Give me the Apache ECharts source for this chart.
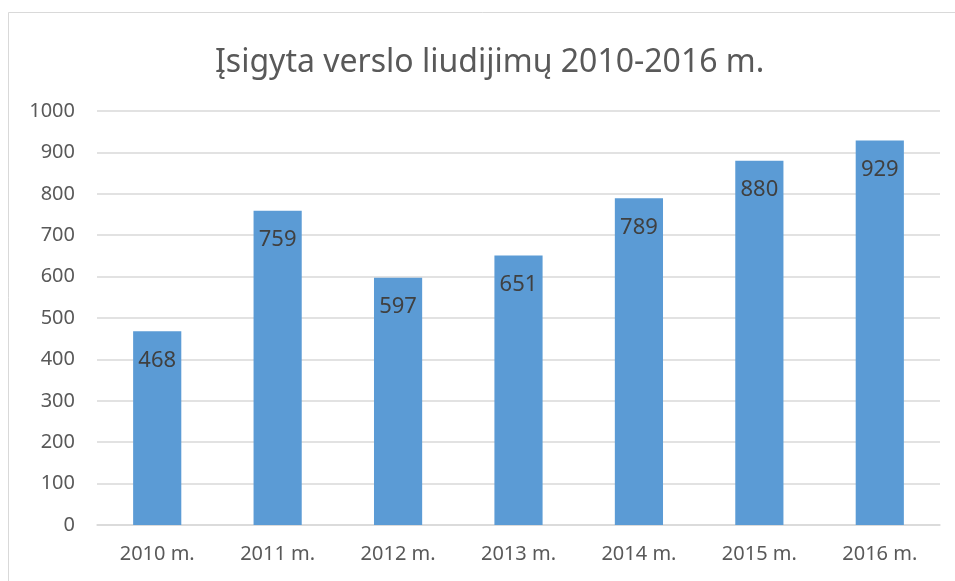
<!DOCTYPE html>
<html>
<head>
<meta charset="utf-8">
<script src="https://cdn.jsdelivr.net/npm/echarts@6/dist/echarts.min.js"></script>
<style>
  html, body { margin: 0; padding: 0; background: #fff; }
  #chart { width: 955px; height: 581px; }
</style>
</head>
<body>
<div id="chart"></div>
<script>
// 数据
const years = ['2010 m.', '2011 m.', '2012 m.', '2013 m.', '2014 m.', '2015 m.', '2016 m.'];
const values = [468, 759, 597, 651, 789, 880, 929];
const titleText = 'Įsigyta verslo liudijimų 2010-2016 m.';

const chart = echarts.init(document.getElementById('chart'));
const font = '"Noto Sans", "Open Sans", sans-serif';

const option = {
  backgroundColor: '#fff',
  animation: false,
  graphic: [{
    type: 'rect',
    shape: { x: 8.5, y: 12.5, width: 1200, height: 1200 },
    style: { fill: 'none', stroke: '#d9d9d9', lineWidth: 1 },
    silent: true
  }],
  title: {
    text: titleText,
    left: 210,
    top: 42,
    textStyle: { fontFamily: font, fontSize: 32, fontWeight: 'normal', color: '#595959' }
  },
  grid: { left: 97, right: 15, top: 111, bottom: 56 },
  xAxis: {
    type: 'category',
    data: years,
    axisTick: { show: false },
    axisLine: { lineStyle: { color: '#d9d9d9', width: 1.5 } },
    axisLabel: { fontFamily: font, fontSize: 20, color: '#595959', margin: 19 }
  },
  yAxis: {
    type: 'value',
    min: 0,
    max: 1000,
    interval: 100,
    axisLine: { show: false },
    axisTick: { show: false },
    axisLabel: {
      fontFamily: font, fontSize: 20, color: '#595959', margin: 22,
      formatter: (v) => String(v)
    },
    splitLine: { lineStyle: { color: '#d9d9d9', width: 1.5 } }
  },
  series: [{
    type: 'bar',
    data: values,
    barWidth: '40%',
    itemStyle: { color: '#5b9bd5' },
    label: {
      show: true,
      position: 'insideTop',
      distance: 18,
      fontFamily: font,
      fontSize: 22,
      color: '#404040'
    }
  }]
};
chart.setOption(option);
</script>
</body>
</html>
